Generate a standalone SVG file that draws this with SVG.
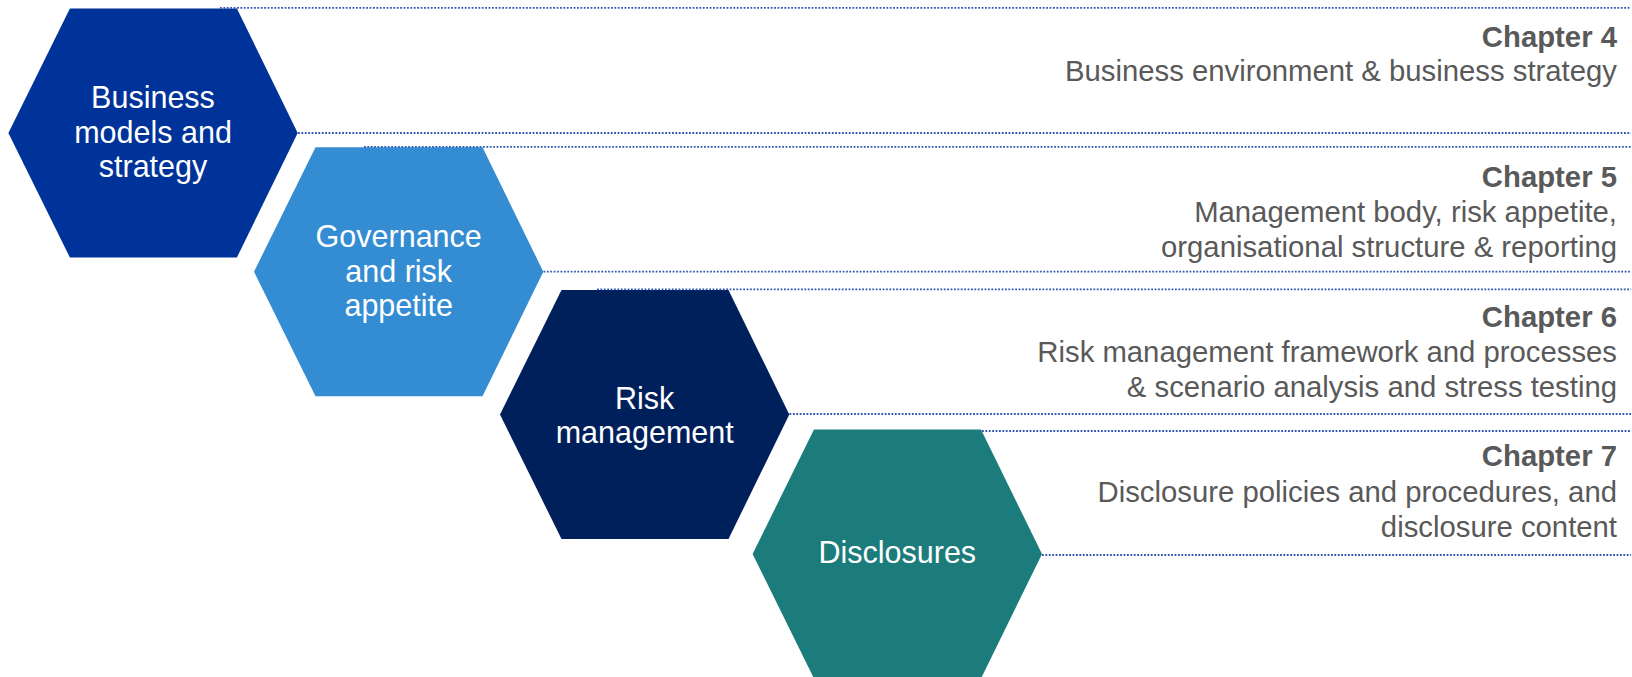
<svg xmlns="http://www.w3.org/2000/svg" width="1632" height="677" viewBox="0 0 1632 677">
<style>
.hex-label{font-family:"Liberation Sans",Arial,sans-serif;font-size:30.5px;fill:#ffffff;text-anchor:middle}
.ch{font-family:"Liberation Sans",Arial,sans-serif;font-size:29.3px;fill:#595959;text-anchor:end}
.ch-title{font-weight:bold}
.dot{stroke:#2f56b2;stroke-width:1.8;stroke-dasharray:1.8 1.6;fill:none}
</style>
<rect width="1632" height="677" fill="#ffffff"/>
<g id="node-business">
<polygon points="8.4,133 69.9,8.5 236.9,8.5 297.7,133 236.9,257.5 69.9,257.5" fill="#003399"/>
<text class="hex-label"><tspan x="153" y="108">Business</tspan><tspan x="153" y="142.5">models and</tspan><tspan x="153" y="176.5">strategy</tspan></text>
</g>
<g id="node-governance">
<polygon points="254,271.7 315.5,147.2 482.5,147.2 543.3,271.7 482.5,396.2 315.5,396.2" fill="#348dd3"/>
<text class="hex-label"><tspan x="398.7" y="247">Governance</tspan><tspan x="398.7" y="281.7">and risk</tspan><tspan x="398.7" y="316">appetite</tspan></text>
</g>
<g id="node-risk">
<polygon points="500,414.5 561.5,290 728.5,290 789.3,414.5 728.5,539 561.5,539" fill="#00205c"/>
<text class="hex-label"><tspan x="644.7" y="408.5">Risk</tspan><tspan x="644.7" y="442.7">management</tspan></text>
</g>
<g id="node-disclosures">
<polygon points="752.6,554 814,429.5 981,429.5 1042,554 981,678.5 814,678.5" fill="#1c7c7c"/>
<text class="hex-label"><tspan x="897.3" y="563.3">Disclosures</tspan></text>
</g>
<g id="connectors">
<line class="dot" x1="220" y1="7.8" x2="1631" y2="7.8"/>
<line class="dot" x1="298" y1="133" x2="1631" y2="133"/>
<line class="dot" x1="364" y1="146.8" x2="1631" y2="146.8"/>
<line class="dot" x1="543.5" y1="271.7" x2="1631" y2="271.7"/>
<line class="dot" x1="597" y1="289.3" x2="1631" y2="289.3"/>
<line class="dot" x1="789.5" y1="414" x2="1631" y2="414"/>
<line class="dot" x1="982" y1="431" x2="1631" y2="431"/>
<line class="dot" x1="1042" y1="555" x2="1631" y2="555"/>
</g>
<g id="chapter-4">
<text class="ch"><tspan class="ch-title" x="1617" y="46.7">Chapter 4</tspan><tspan x="1617" y="81">Business environment &amp; business strategy</tspan></text>
</g>
<g id="chapter-5">
<text class="ch"><tspan class="ch-title" x="1617" y="186.7">Chapter 5</tspan><tspan x="1617" y="221.7">Management body, risk appetite,</tspan><tspan x="1617" y="256.7">organisational structure &amp; reporting</tspan></text>
</g>
<g id="chapter-6">
<text class="ch"><tspan class="ch-title" x="1617" y="326.7">Chapter 6</tspan><tspan x="1617" y="362.3">Risk management framework and processes</tspan><tspan x="1617" y="397.3">&amp; scenario analysis and stress testing</tspan></text>
</g>
<g id="chapter-7">
<text class="ch"><tspan class="ch-title" x="1617" y="465.7">Chapter 7</tspan><tspan x="1617" y="501.7">Disclosure policies and procedures, and</tspan><tspan x="1617" y="536.7">disclosure content</tspan></text>
</g>
</svg>
